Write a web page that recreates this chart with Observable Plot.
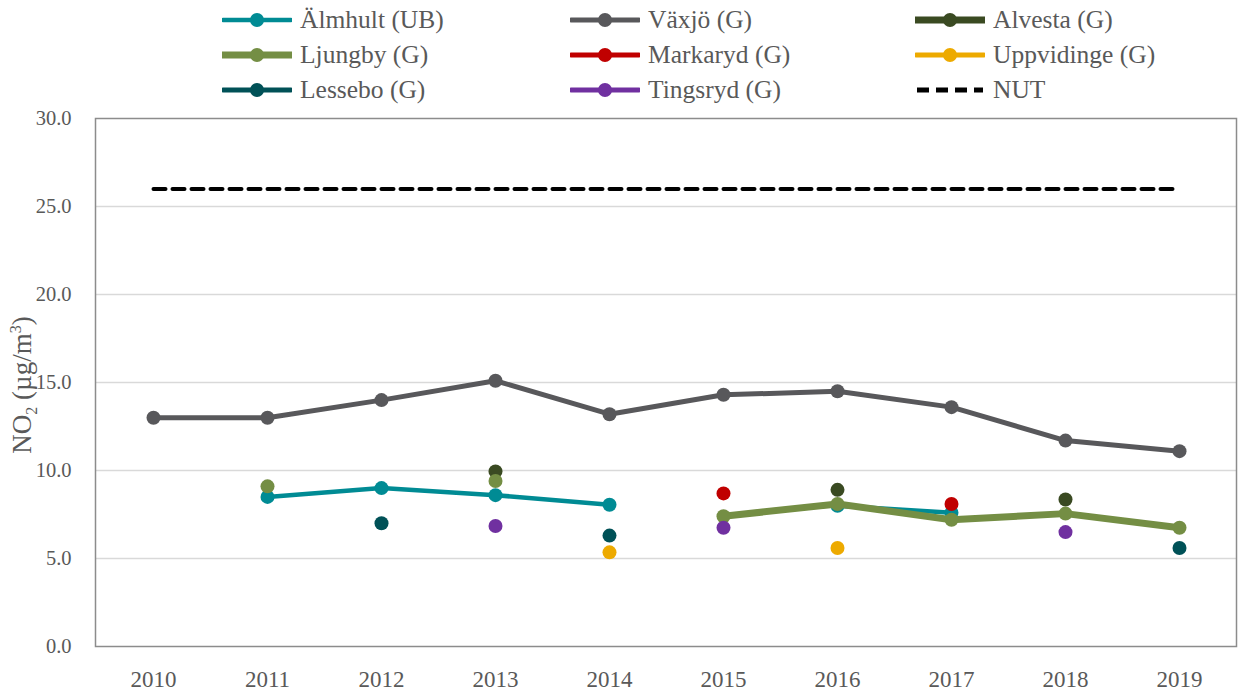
<!DOCTYPE html>
<html>
<head>
<meta charset="utf-8">
<script src="https://cdn.jsdelivr.net/npm/d3@7"></script>
<script src="https://cdn.jsdelivr.net/npm/@observablehq/plot@0.6"></script>
<style>
  body { margin: 0; background: #fff; font-family: "Liberation Serif", "DejaVu Serif", serif; }
  #wrap { position: relative; width: 1238px; height: 693px; }
  #legend { position: relative; height: 105px; width: 1238px; }
  .item { position: absolute; display: flex; align-items: center; height: 30px; font-size: 25.5px; color: #595959; }
  .item svg { margin-right: 8px; }
  #ylab { position: absolute; left: 24px; top: 385px; transform: translate(-50%, -50%) rotate(-90deg); white-space: nowrap; font-size: 27px; color: #595959; }
  #ylab sub, #ylab sup { font-size: 16px; }
</style>
</head>
<body>
<div id="wrap">
  <div id="legend"></div>
  <div id="chart"></div>
  <div id="ylab">NO<sub>2</sub> (µg/m<sup>3</sup>)</div>
</div>
<script>
const years = [2010, 2011, 2012, 2013, 2014, 2015, 2016, 2017, 2018, 2019];
const almhult    = [null, 8.5, 9.0, 8.6, 8.05, null, 8.0, 7.6, null, null];
const vaxjo      = [13.0, 13.0, 14.0, 15.1, 13.2, 14.3, 14.5, 13.6, 11.7, 11.1];
const alvesta    = [null, null, null, 9.95, null, null, 8.9, null, 8.35, null];
const ljungby    = [null, 9.1, null, 9.4, null, 7.4, 8.1, 7.2, 7.55, 6.75];
const markaryd   = [null, null, null, null, null, 8.7, null, 8.1, null, null];
const uppvidinge = [null, null, null, null, 5.35, null, 5.6, null, null, null];
const lessebo    = [null, null, 7.0, null, 6.3, null, null, null, null, 5.6];
const tingsryd   = [null, null, null, 6.85, null, 6.75, null, null, 6.5, null];
const nut        = [26, 26, 26, 26, 26, 26, 26, 26, 26, 26];
const yTicks = [0, 5, 10, 15, 20, 25, 30];

const series = [
  {name: "Älmhult (UB)", values: almhult, color: "#008B94", width: 4.5},
  {name: "Växjö (G)", values: vaxjo, color: "#58585B", width: 5},
  {name: "Alvesta (G)", values: alvesta, color: "#3A4A22", width: 7},
  {name: "Ljungby (G)", values: ljungby, color: "#748E44", width: 7},
  {name: "Markaryd (G)", values: markaryd, color: "#C00000", width: 5},
  {name: "Uppvidinge (G)", values: uppvidinge, color: "#EDAA00", width: 5},
  {name: "Lessebo (G)", values: lessebo, color: "#005157", width: 5},
  {name: "Tingsryd (G)", values: tingsryd, color: "#7030A0", width: 5}
];

// legend
const legend = document.getElementById("legend");
const colX = [222, 570, 915];
const rowY = [5, 40, 75];
const legendItems = [...series, {name: "NUT", color: "#000", width: 4, dash: true}];
legendItems.forEach((s, i) => {
  const d = document.createElement("div");
  d.className = "item";
  d.style.left = colX[i % 3] + "px";
  d.style.top = rowY[Math.floor(i / 3)] + "px";
  const line = s.dash
    ? `<line x1="2" x2="68" y1="15" y2="15" stroke="#000" stroke-width="5" stroke-dasharray="12,7"/>`
    : `<line x1="1" x2="69" y1="15" y2="15" stroke="${s.color}" stroke-width="${s.width}" stroke-linecap="round"/><circle cx="35" cy="15" r="7" fill="${s.color}"/>`;
  d.innerHTML = `<svg width="70" height="30">${line}</svg><span>${s.name}</span>`;
  legend.appendChild(d);
});

const marks = [
  Plot.gridY(yTicks.filter(t => t > 0 && t < 30), {stroke: "#d9d9d9", strokeOpacity: 1, strokeWidth: 1.5}),
  Plot.frame({stroke: "#8c8c8c", strokeWidth: 1.5}),
  Plot.axisY(yTicks, {tickFormat: d => d.toFixed(1), tickSize: 0, tickPadding: 24, fontSize: 20.5, color: "#595959", label: null}),
  Plot.axisX(years, {tickFormat: d => String(d), tickSize: 0, tickPadding: 24, fontSize: 23, color: "#595959", label: null})
];
series.forEach(s => {
  const data = years.map((y, i) => ({year: y, value: s.values[i]}));
  marks.push(Plot.line(data, {x: "year", y: "value", stroke: s.color, strokeWidth: s.width}));
  marks.push(Plot.dot(data.filter(d => d.value != null), {x: "year", y: "value", r: 7, fill: s.color}));
});
marks.push(Plot.line(years.map((y, i) => ({year: y, value: nut[i]})), {x: "year", y: "value", stroke: "#000", strokeWidth: 4, strokeDasharray: "12,7"}));

const chart = Plot.plot({
  width: 1238,
  height: 588,
  marginTop: 13,
  marginBottom: 47,
  marginLeft: 95,
  marginRight: 2,
  style: {fontFamily: "'Liberation Serif', 'DejaVu Serif', serif", fontSize: "20px", color: "#595959", background: "#fff"},
  x: {type: "point", domain: years, padding: 0.5},
  y: {domain: [0, 30]},
  marks
});
document.getElementById("chart").appendChild(chart);
</script>
</body>
</html>
